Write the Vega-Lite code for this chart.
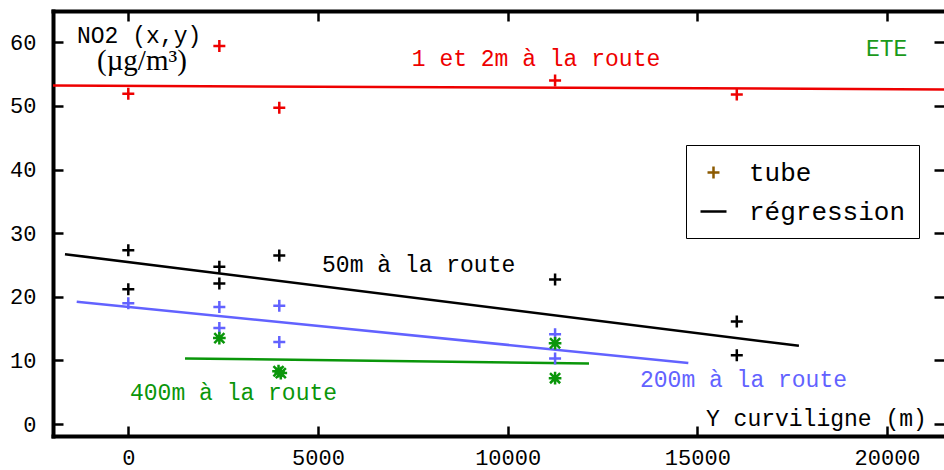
{
  "$schema": "https://vega.github.io/schema/vega-lite/v6.json",
  "autosize": "none",
  "width": 891,
  "height": 425,
  "padding": {"left": 53, "top": 11, "right": 0, "bottom": 34},
  "background": "white",
  "config": {
    "view": {"stroke": null},
    "axis": {
      "domainColor": "black",
      "domainWidth": 4,
      "domainCap": "square",
      "tickColor": "black",
      "tickWidth": 2.5,
      "tickSize": -10,
      "grid": false,
      "title": null,
      "labelFont": "Liberation Mono",
      "labelFontSize": 22,
      "labelColor": "black"
    },
    "text": {"font": "Liberation Mono"}
  },
  "datasets": {
    "tubes": [
      {"distance": "1 et 2m", "position_m": 0, "no2": 51.9},
      {"distance": "1 et 2m", "position_m": 2400, "no2": 59.4},
      {"distance": "1 et 2m", "position_m": 3980, "no2": 49.7},
      {"distance": "1 et 2m", "position_m": 11250, "no2": 54.0},
      {"distance": "1 et 2m", "position_m": 16040, "no2": 51.8},
      {"distance": "50m", "position_m": 0, "no2": 27.3},
      {"distance": "50m", "position_m": 0, "no2": 21.2},
      {"distance": "50m", "position_m": 2400, "no2": 24.7},
      {"distance": "50m", "position_m": 2400, "no2": 22.1},
      {"distance": "50m", "position_m": 3980, "no2": 26.5},
      {"distance": "50m", "position_m": 11250, "no2": 22.7},
      {"distance": "50m", "position_m": 16040, "no2": 16.1},
      {"distance": "50m", "position_m": 16040, "no2": 10.8},
      {"distance": "200m", "position_m": 0, "no2": 19.0},
      {"distance": "200m", "position_m": 2400, "no2": 18.4},
      {"distance": "200m", "position_m": 2400, "no2": 15.1},
      {"distance": "200m", "position_m": 3980, "no2": 18.6},
      {"distance": "200m", "position_m": 3980, "no2": 12.9},
      {"distance": "200m", "position_m": 11250, "no2": 14.1},
      {"distance": "200m", "position_m": 11250, "no2": 10.3},
      {"distance": "400m", "position_m": 2400, "no2": 13.5},
      {"distance": "400m", "position_m": 3960, "no2": 8.3},
      {"distance": "400m", "position_m": 4020, "no2": 8.0},
      {"distance": "400m", "position_m": 11250, "no2": 12.7},
      {"distance": "400m", "position_m": 11250, "no2": 7.2}
    ],
    "regressions": [
      {"distance": "1 et 2m", "position_m": -1985, "no2": 53.2},
      {"distance": "1 et 2m", "position_m": 21502, "no2": 52.6},
      {"distance": "50m", "position_m": -1669, "no2": 26.7},
      {"distance": "50m", "position_m": 17678, "no2": 12.3},
      {"distance": "200m", "position_m": -1360, "no2": 19.2},
      {"distance": "200m", "position_m": 14762, "no2": 9.6},
      {"distance": "400m", "position_m": 1495, "no2": 10.3},
      {"distance": "400m", "position_m": 12144, "no2": 9.5}
    ],
    "annotations": [
      {"distance": "axes", "position_m": -1352, "no2": 59.9, "label": "NO2 (x,y)"},
      {"distance": "1 et 2m", "position_m": 7473, "no2": 56.3, "label": "1 et 2m à la route"},
      {"distance": "saison", "position_m": 19446, "no2": 57.8, "label": "ETE"},
      {"distance": "50m", "position_m": 5107, "no2": 23.9, "label": "50m à la route"},
      {"distance": "200m", "position_m": 13488, "no2": 5.8, "label": "200m à la route"},
      {"distance": "400m", "position_m": 45, "no2": 3.8, "label": "400m à la route"},
      {"distance": "axes", "position_m": 15228, "no2": -0.3, "label": "Y curviligne (m)"}
    ],
    "units": [
      {"distance": "axes", "position_m": -825, "no2": 55.6, "label": "(µg/m³)"}
    ],
    "legend_items": [
      {"kind": "tube"},
      {"kind": "régression"}
    ]
  },
  "layer": [
    {
      "data": {"name": "regressions"},
      "mark": {"type": "line", "strokeWidth": 2.5, "clip": true},
      "encoding": {
        "x": {
          "field": "position_m", "type": "quantitative",
          "scale": {"domain": [-1985, 21502], "nice": false, "zero": false},
          "axis": {"orient": "bottom", "values": [0, 5000, 10000, 15000, 20000], "labelPadding": 21, "format": "d"}
        },
        "y": {
          "field": "no2", "type": "quantitative",
          "scale": {"domain": [-1.886, 64.92], "nice": false, "zero": false},
          "axis": {"orient": "left", "values": [0, 10, 20, 30, 40, 50, 60], "labelPadding": 27}
        },
        "color": {
          "field": "distance", "type": "nominal",
          "scale": {
            "domain": ["1 et 2m", "50m", "200m", "400m", "axes", "saison"],
            "range": ["#ee0000", "#000000", "#6262ff", "#0a960a", "#000000", "#1a9a1a"]
          },
          "legend": null
        }
      }
    },
    {
      "data": {"name": "tubes"},
      "transform": [{"filter": "datum.distance !== '400m'"}],
      "mark": {"type": "point", "shape": "M-1,0H1M0,-1V1", "size": 144, "filled": false, "strokeWidth": 2.5, "opacity": 1},
      "encoding": {
        "x": {
          "field": "position_m", "type": "quantitative",
          "scale": {"domain": [-1985, 21502], "nice": false, "zero": false},
          "axis": {"orient": "top", "values": [0, 5000, 10000, 15000, 20000], "labels": false}
        },
        "y": {
          "field": "no2", "type": "quantitative",
          "scale": {"domain": [-1.886, 64.92], "nice": false, "zero": false},
          "axis": {"orient": "right", "values": [0, 10, 20, 30, 40, 50, 60], "labels": false, "domain": false}
        },
        "color": {
          "field": "distance", "type": "nominal",
          "scale": {
            "domain": ["1 et 2m", "50m", "200m", "400m", "axes", "saison"],
            "range": ["#ee0000", "#000000", "#6262ff", "#0a960a", "#000000", "#1a9a1a"]
          },
          "legend": null
        }
      }
    },
    {
      "data": {"name": "tubes"},
      "transform": [{"filter": "datum.distance === '400m'"}],
      "mark": {"type": "point", "shape": "M-1,0H1M0,-1V1M-0.8,-0.8L0.8,0.8M-0.8,0.8L0.8,-0.8", "size": 160, "filled": false, "strokeWidth": 2.5, "opacity": 1},
      "encoding": {
        "x": {"field": "position_m", "type": "quantitative", "scale": {"domain": [-1985, 21502], "nice": false, "zero": false}, "axis": null},
        "y": {"field": "no2", "type": "quantitative", "scale": {"domain": [-1.886, 64.92], "nice": false, "zero": false}, "axis": null},
        "color": {
          "field": "distance", "type": "nominal",
          "scale": {
            "domain": ["1 et 2m", "50m", "200m", "400m", "axes", "saison"],
            "range": ["#ee0000", "#000000", "#6262ff", "#0a960a", "#000000", "#1a9a1a"]
          },
          "legend": null
        }
      }
    },
    {
      "data": {"name": "annotations"},
      "mark": {"type": "text", "font": "Liberation Mono", "fontSize": 23, "align": "left", "baseline": "alphabetic"},
      "encoding": {
        "x": {"field": "position_m", "type": "quantitative", "scale": {"domain": [-1985, 21502], "nice": false, "zero": false}, "axis": null},
        "y": {"field": "no2", "type": "quantitative", "scale": {"domain": [-1.886, 64.92], "nice": false, "zero": false}, "axis": null},
        "text": {"field": "label"},
        "color": {
          "field": "distance", "type": "nominal",
          "scale": {
            "domain": ["1 et 2m", "50m", "200m", "400m", "axes", "saison"],
            "range": ["#ee0000", "#000000", "#6262ff", "#0a960a", "#000000", "#1a9a1a"]
          },
          "legend": null
        }
      }
    },
    {
      "data": {"name": "units"},
      "mark": {"type": "text", "font": "Liberation Serif", "fontSize": 29, "align": "left", "baseline": "alphabetic"},
      "encoding": {
        "x": {"field": "position_m", "type": "quantitative", "scale": {"domain": [-1985, 21502], "nice": false, "zero": false}, "axis": null},
        "y": {"field": "no2", "type": "quantitative", "scale": {"domain": [-1.886, 64.92], "nice": false, "zero": false}, "axis": null},
        "text": {"field": "label"},
        "color": {
          "field": "distance", "type": "nominal",
          "scale": {
            "domain": ["1 et 2m", "50m", "200m", "400m", "axes", "saison"],
            "range": ["#ee0000", "#000000", "#6262ff", "#0a960a", "#000000", "#1a9a1a"]
          },
          "legend": null
        }
      }
    },
    {
      "data": {"name": "legend_items"},
      "mark": {"type": "point", "filled": false, "opacity": 0},
      "encoding": {
        "shape": {
          "field": "kind", "type": "nominal",
          "scale": {"domain": ["tube", "régression"], "range": ["M-0.46,0H0.46M0,-0.46V0.46", "stroke"]},
          "legend": {
            "orient": "none", "legendX": 633, "legendY": 134, "title": null,
            "padding": 13, "strokeColor": "black", "fillColor": "white",
            "labelFont": "Liberation Mono", "labelFontSize": 26, "labelColor": "black",
            "labelOffset": 21, "symbolSize": 676, "symbolStrokeWidth": 2.5, "rowPadding": 11,
            "encode": {
              "symbols": {"update": {"opacity": {"value": 1}}},
              "legend": {"update": {"stroke": {"value": "black"}, "strokeWidth": {"value": 2}}}
            }
          }
        },
        "stroke": {
          "field": "kind", "type": "nominal",
          "scale": {"domain": ["tube", "régression"], "range": ["#8c5a00", "#000000"]},
          "legend": {
            "orient": "none", "legendX": 633, "legendY": 134, "title": null,
            "padding": 13, "strokeColor": "black", "fillColor": "white",
            "labelFont": "Liberation Mono", "labelFontSize": 26, "labelColor": "black",
            "labelOffset": 21, "symbolSize": 676, "symbolStrokeWidth": 2.5, "rowPadding": 11,
            "encode": {
              "symbols": {"update": {"opacity": {"value": 1}}},
              "legend": {"update": {"stroke": {"value": "black"}, "strokeWidth": {"value": 2}}}
            }
          }
        }
      }
    }
  ],
  "resolve": {"axis": {"x": "independent", "y": "independent"}}
}
